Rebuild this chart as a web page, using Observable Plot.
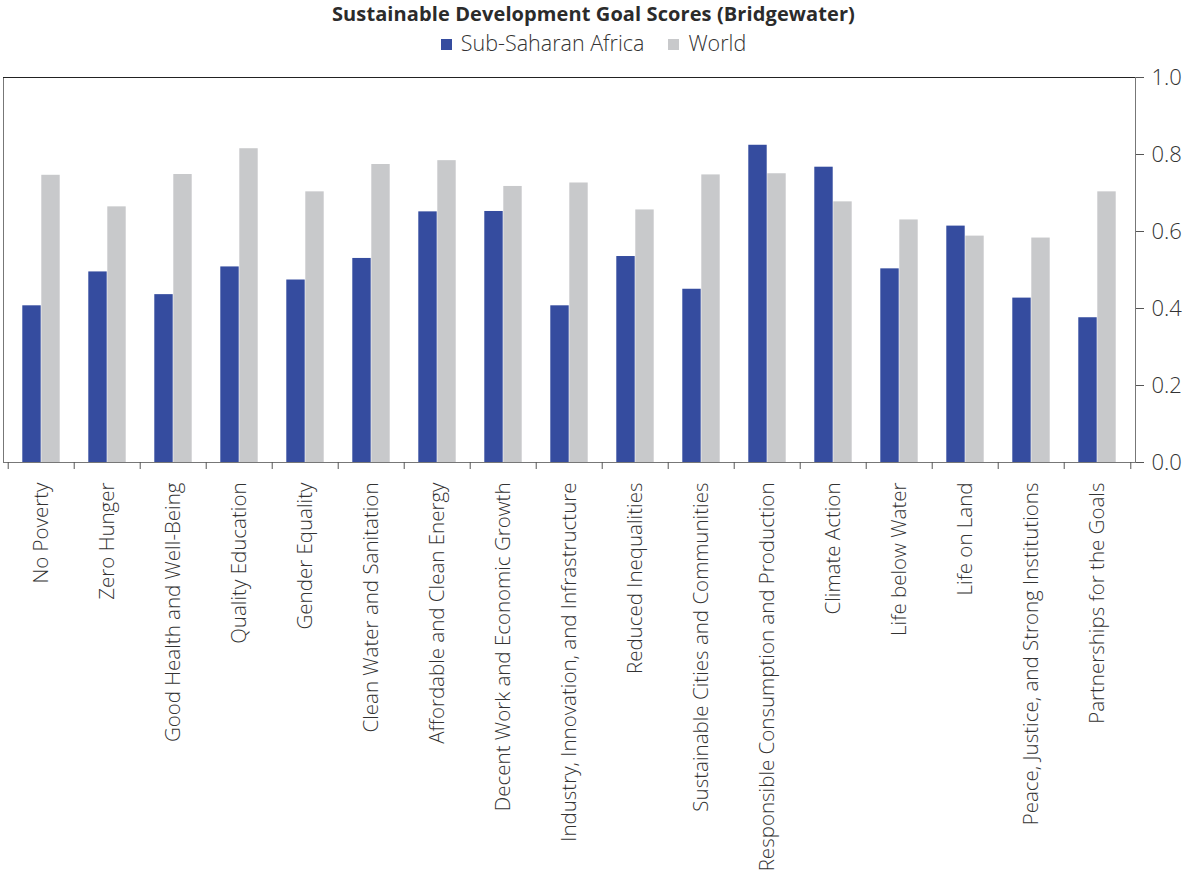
<!DOCTYPE html>
<html>
<head>
<meta charset="utf-8">
<script src="https://cdn.jsdelivr.net/npm/d3@7"></script>
<script src="https://cdn.jsdelivr.net/npm/@observablehq/plot@0.6"></script>
<style>
  body { margin: 0; background: #fff; font-family: "Open Sans", sans-serif; color: #333; }
  #header { height: 60px; width: 1187px; text-align: center; }
  #title { font-weight: 700; font-size: 20px; line-height: 22px; padding-top: 3px; letter-spacing: 0.1px; color: #2b2b2b; }
  #legend { font-size: 21.5px; font-weight: 300; line-height: 28px; margin-top: 4px; color: #333; }
  .sw { display: inline-block; width: 11px; height: 11px; margin-right: 9px; vertical-align: 1px; }
  .item { display: inline-block; margin: 0 12px; }
  svg { display: block; }
</style>
</head>
<body>
<div id="header">
  <div id="title">Sustainable Development Goal Scores (Bridgewater)</div>
  <div id="legend"></div>
</div>
<div id="chart"></div>
<script>
const categories = [
  "No Poverty",
  "Zero Hunger",
  "Good Health and Well-Being",
  "Quality Education",
  "Gender Equality",
  "Clean Water and Sanitation",
  "Affordable and Clean Energy",
  "Decent Work and Economic Growth",
  "Industry, Innovation, and Infrastructure",
  "Reduced Inequalities",
  "Sustainable Cities and Communities",
  "Responsible Consumption and Production",
  "Climate Action",
  "Life below Water",
  "Life on Land",
  "Peace, Justice, and Strong Institutions",
  "Partnerships for the Goals"
];
const subSaharanAfrica = [0.407, 0.495, 0.436, 0.508, 0.474, 0.530, 0.651, 0.652, 0.407, 0.535, 0.450, 0.824, 0.767, 0.503, 0.614, 0.427, 0.376];
const world = [0.746, 0.664, 0.748, 0.815, 0.703, 0.774, 0.784, 0.717, 0.726, 0.656, 0.747, 0.750, 0.677, 0.630, 0.588, 0.583, 0.703];
const seriesNames = ["Sub-Saharan Africa", "World"];
const seriesColors = ["#354c9f", "#c8c9cb"];
const yTicks = [0, 0.2, 0.4, 0.6, 0.8, 1.0];

const data = categories.map((goal, i) => ({goal, ssa: subSaharanAfrica[i], world: world[i]}));

// legend
const legend = document.getElementById("legend");
seriesNames.forEach((name, i) => {
  const span = document.createElement("span");
  span.className = "item";
  span.innerHTML = `<span class="sw" style="background:${seriesColors[i]}"></span>${name}`;
  legend.appendChild(span);
});

const W = 1187, ML = 3, MR = 52;
const step = (W - ML - MR) / categories.length;
const barW = 19;

const chart = Plot.plot({
  width: W,
  height: 810,
  marginTop: 17,
  marginBottom: 408,
  marginLeft: ML,
  marginRight: MR,
  style: {fontFamily: "Open Sans, sans-serif", color: "#333", background: "#fff"},
  x: {domain: categories, padding: 0, axis: null},
  y: {domain: [0, 1], axis: null},
  marks: [
    Plot.barY(data, {x: "goal", y: "ssa", fill: seriesColors[0], insetLeft: step / 2 - barW, insetRight: step / 2}),
    Plot.barY(data, {x: "goal", y: "world", fill: seriesColors[1], insetLeft: step / 2, insetRight: step / 2 - barW}),
    Plot.frame({stroke: "#777"}),
    Plot.ruleY([1], {stroke: "#222"}),
    Plot.axisY({anchor: "right", ticks: yTicks, tickFormat: d3.format(".1f"), tickSize: 8, tickPadding: 8, fontSize: 22, fontWeight: 300, stroke: "#555", label: null}),
    Plot.axisX(categories, {anchor: "bottom", tickSize: 7, fill: "none", stroke: "#555", dx: -step / 2, label: null}),
    Plot.axisX([categories[categories.length - 1]], {anchor: "bottom", tickSize: 7, fill: "none", stroke: "#555", dx: step / 2, label: null}),
    Plot.axisX(categories, {anchor: "bottom", tickSize: 0, tickPadding: 20, tickRotate: -90, fontSize: 20.5, fontWeight: 300, fill: "#333", label: null})
  ]
});
document.getElementById("chart").appendChild(chart);
</script>
</body>
</html>
